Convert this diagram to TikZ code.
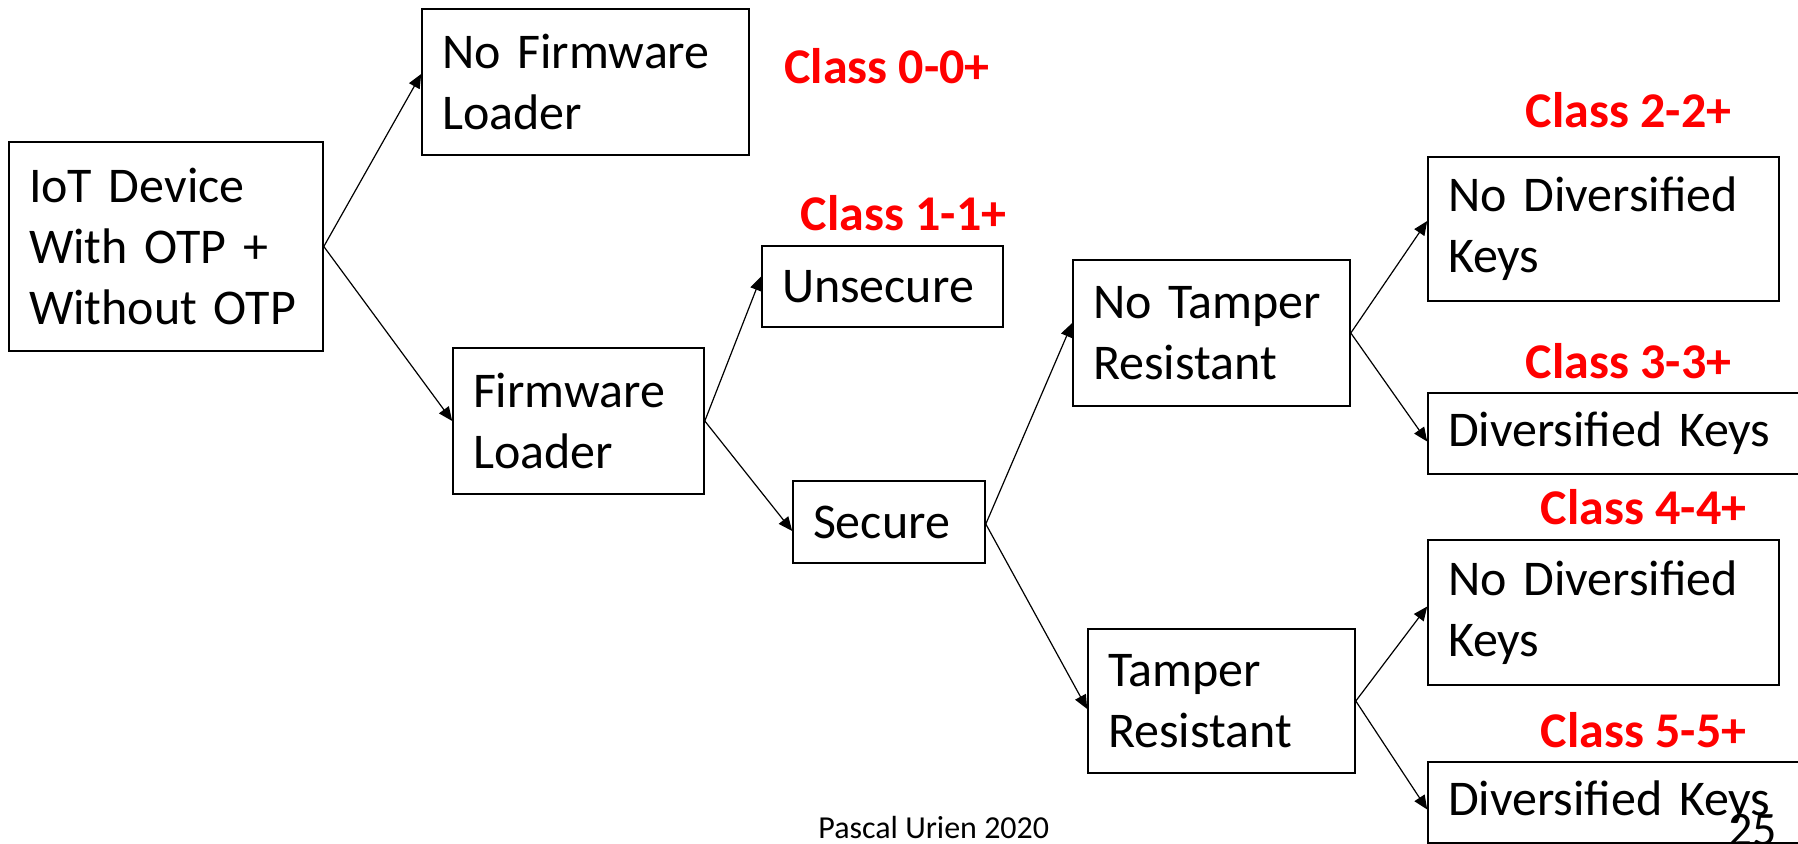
\documentclass[tikz,border=0pt]{standalone}
\usepackage{fontspec}
\setmainfont{Carlito}
\usetikzlibrary{arrows.meta}

\tikzset{
  box/.style={draw, line width=0.8pt, align=left, inner xsep=10pt, inner ysep=0pt,
    font=\fontsize{25}{30.5}\selectfont},
  classlbl/.style={text={rgb,255:red,255;green,0;blue,0}, inner sep=0pt,
    font=\fontsize{25}{30.5}\selectfont\bfseries},
  link/.style={line width=0.6pt, -{Triangle[length=7pt,width=6pt]}},
}

\begin{document}
\begin{tikzpicture}[x=0.5pt,y=0.5pt,yscale=-1]
\useasboundingbox (0,0) rectangle (1798,843);

% Text Node
\node [box, text width=137pt, minimum height=104.5pt] (dev) at (166,246.5) {IoT Device\\With OTP +\\Without OTP};
% Text Node
\node [box, text width=143.5pt, minimum height=73pt] (nofw) at (585.5,82) {No Firmware\\Loader};
% Text Node
\node [box, text width=105.5pt, minimum height=73pt] (fw) at (578.5,421) {Firmware\\Loader};
% Text Node
\node [box, text width=100.5pt, minimum height=40.5pt] (unsec) at (882.5,286.5) {Unsecure};
% Text Node
\node [box, text width=76pt, minimum height=41pt] (sec) at (889,522) {Secure};
% Text Node
\node [box, text width=118.5pt, minimum height=73pt] (notamp) at (1211.5,333) {No Tamper\\Resistant};
% Text Node
\node [box, text width=113.5pt, minimum height=72pt] (tamp) at (1221.5,701) {Tamper\\Resistant};
% Text Node
\node [box, text width=155.5pt, minimum height=72pt] (nodivA) at (1603.5,229) {No Diversified\\Keys};
% Text Node
\node [box, text width=181pt, minimum height=40.5pt] (divA) at (1629,433.5) {Diversified Keys};
% Text Node
\node [box, text width=155.5pt, minimum height=72.5pt] (nodivB) at (1603.5,612.5) {No Diversified\\Keys};
% Text Node
\node [box, text width=181pt, minimum height=40.5pt] (divB) at (1629,802.5) {Diversified Keys};

% Class labels
\node [classlbl] (clsA) at (887,66) {Class 0-0+};
\node [classlbl] (clsB) at (903.5,213) {Class 1-1+};
\node [classlbl] (clsC) at (1628.5,110) {Class 2-2+};
\node [classlbl] (clsD) at (1628.5,361) {Class 3-3+};
\node [classlbl] (clsE) at (1643.5,507) {Class 4-4+};
\node [classlbl] (clsF) at (1643.5,730) {Class 5-5+};

%Straight Lines
\draw [link] (dev.east) -- ([yshift=-4pt]nofw.west);
\draw [link] (dev.east) -- (fw.west);
\draw [link] (fw.east) -- ([yshift=-5pt]unsec.west);
\draw [link] (fw.east) -- ([yshift=4.5pt]sec.west);
\draw [link] ([yshift=1pt]sec.east) -- ([yshift=-5pt]notamp.west);
\draw [link] ([yshift=1pt]sec.east) -- ([yshift=4pt]tamp.west);
\draw [link] (notamp.east) -- ([yshift=-4pt]nodivA.west);
\draw [link] (notamp.east) -- ([yshift=4pt]divA.west);
\draw [link] (tamp.east) -- ([yshift=-3pt]nodivB.west);
\draw [link] (tamp.east) -- ([yshift=3.5pt]divB.west);

% Footer
\node [anchor=base west, inner sep=0pt, font=\fontsize{16}{19}\selectfont] (author) at (818,838) {Pascal Urien 2020};
\node [anchor=base west, inner sep=0pt, font=\fontsize{24}{29}\selectfont] (pageno) at (1728,845) {25};

\end{tikzpicture}
\end{document}
